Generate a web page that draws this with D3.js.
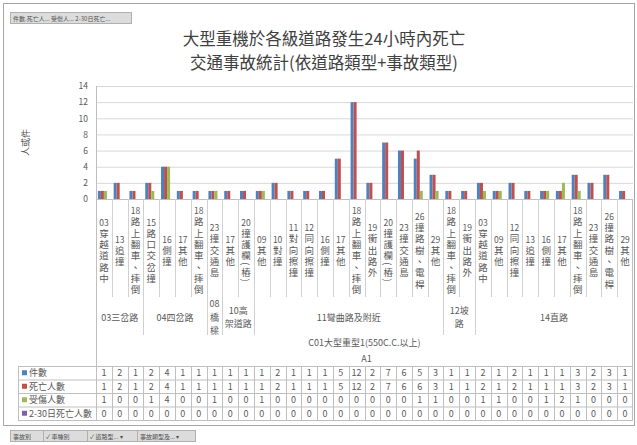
<!DOCTYPE html>
<html>
<head>
<meta charset="utf-8">
<script src="https://cdn.jsdelivr.net/npm/d3@7"></script>
<style>
  html, body { margin: 0; padding: 0; background: #fff; }
  svg { display: block; font-family: "Noto Sans CJK TC", "Noto Sans", sans-serif; }
  .vert { writing-mode: vertical-rl; }
</style>
</head>
<body>
<svg id="chart" width="637" height="445"></svg>
<script>
// ---- data ----
const accidentTypes = [
  "03穿越道路中", "13追撞", "18路上翻車、摔倒",
  "15路口交岔撞", "16側撞", "17其他", "18路上翻車、摔倒",
  "23撞交通島",
  "17其他", "20撞護欄(樁)",
  "09其他", "10對撞", "11對向擦撞", "12同向擦撞", "16側撞", "17其他",
  "18路上翻車、摔倒", "19衝出路外", "20撞護欄(樁)", "23撞交通島", "26撞路樹、電桿", "29其他",
  "18路上翻車、摔倒", "19衝出路外",
  "03穿越道路中", "09其他", "12同向擦撞", "13追撞", "16側撞", "17其他",
  "18路上翻車、摔倒", "23撞交通島", "26撞路樹、電桿", "29其他"
];
const roadTypes = ["03三岔路", "04四岔路", "08\n橋\n樑", "10高\n架道路", "11彎曲路及附近", "12坡\n路", "14直路"];
const roadTypeCounts = [3, 4, 1, 2, 12, 2, 10];
const vehicleType = "C01大型重型1(550C.C.以上)";
const topLevel = "A1";

const seriesNames = ["件數", "死亡人數", "受傷人數", "2-30日死亡人數"];
const casesCount = [1, 2, 1, 2, 4, 1, 1, 1, 1, 1, 1, 2, 1, 1, 1, 5, 12, 2, 7, 6, 5, 3, 1, 1, 2, 1, 2, 1, 1, 1, 3, 2, 3, 1];
const deaths     = [1, 2, 1, 2, 4, 1, 1, 1, 1, 1, 1, 2, 1, 1, 1, 5, 12, 2, 7, 6, 6, 3, 1, 1, 2, 1, 2, 1, 1, 1, 3, 2, 3, 1];
const injured    = [1, 0, 0, 1, 4, 0, 0, 1, 0, 0, 1, 0, 0, 0, 0, 0, 0, 0, 0, 0, 1, 1, 0, 0, 1, 1, 0, 0, 1, 2, 1, 0, 0, 0];
const lateDeaths = [0, 0, 0, 0, 0, 0, 0, 0, 0, 0, 0, 0, 0, 0, 0, 0, 0, 0, 0, 0, 0, 0, 0, 0, 0, 0, 0, 0, 0, 0, 0, 0, 0, 0];
const seriesValues = [casesCount, deaths, injured, lateDeaths];
const seriesColors = ["#4F81BD", "#C0504D", "#9BBB59", "#8064A2"];
const yTicks = [0, 2, 4, 6, 8, 10, 12, 14];

const titleLines = ["大型重機於各級道路發生24小時內死亡", "交通事故統計(依道路類型+事故類型)"];
const yAxisTitle = "人或件";

// ---- layout ----
const W = 637, H = 445;
const plot = { left: 96, right: 633, top: 86, bottom: 199 };
const lvl1Bottom = 297, lvl2Bottom = 335, tableTop = 366, rowH = 13.5, tableLeft = 18;
const textColor = "#595959", lineColor = "#bfbfbf";

const svg = d3.select("#chart");
svg.append("rect").attr("width", W).attr("height", H).attr("fill", "#fff");

// outer chart frame
svg.append("rect").attr("x", 3.5).attr("y", 3.5).attr("width", 631).attr("height", 422)
  .attr("fill", "none").attr("stroke", "#a6a6a6");

// scales
const x = d3.scaleBand().domain(d3.range(accidentTypes.length)).range([plot.left, plot.right]);
const xs = d3.scaleBand().domain(seriesNames).range([0, x.bandwidth()]).paddingOuter(0.62);
const y = d3.scaleLinear().domain([0, 14]).range([plot.bottom, plot.top]);

// gridlines
svg.append("g").attr("transform", `translate(${plot.left},0)`)
  .call(d3.axisLeft(y).tickValues(yTicks).tickSize(-(plot.right - plot.left)).tickFormat(""))
  .call(g => g.select(".domain").remove())
  .call(g => g.selectAll("line").attr("stroke", "#d9d9d9"));

// y tick labels
svg.append("g").attr("transform", `translate(${plot.left - 8},0)`)
  .call(d3.axisLeft(y).tickValues(yTicks).tickSize(0).tickPadding(0))
  .call(g => g.select(".domain").remove())
  .call(g => g.selectAll("text").attr("fill", textColor).attr("font-size", 8.5)
    .attr("font-family", "Noto Sans CJK TC"));

// y axis title, centred on the plot height
svg.append("text").attr("transform", `translate(25,${(plot.top + plot.bottom) / 2}) rotate(-90)`)
  .attr("text-anchor", "middle").attr("dominant-baseline", "central")
  .attr("fill", textColor).attr("font-size", 9)
  .text(yAxisTitle);

// bars
const barG = svg.append("g");
seriesNames.forEach((s, si) => {
  barG.selectAll(null).data(seriesValues[si]).join("rect")
    .attr("x", (d, i) => x(i) + xs(s))
    .attr("width", xs.bandwidth())
    .attr("y", d => y(d))
    .attr("height", d => y(0) - y(d))
    .attr("fill", seriesColors[si]);
});

// axis lines
svg.append("line").attr("x1", plot.left).attr("x2", plot.right).attr("y1", plot.bottom + 0.5).attr("y2", plot.bottom + 0.5)
  .attr("stroke", "#bfbfbf");
svg.append("line").attr("x1", plot.left + 0.5).attr("x2", plot.left + 0.5).attr("y1", plot.top).attr("y2", tableTop + 4 * rowH)
  .attr("stroke", lineColor);
svg.append("line").attr("x1", plot.right - 0.5).attr("x2", plot.right - 0.5).attr("y1", plot.bottom).attr("y2", tableTop + 4 * rowH)
  .attr("stroke", lineColor);

// level-1 separators between categories
const bounds = d3.range(1, accidentTypes.length).map(i => x(i));
svg.append("g").selectAll("line").data(bounds).join("line")
  .attr("x1", d => Math.round(d) + 0.5).attr("x2", d => Math.round(d) + 0.5)
  .attr("y1", plot.bottom).attr("y2", lvl1Bottom)
  .attr("stroke", "#d0d0d0");

// level-2 group separators
const groupStarts = d3.cumsum([0, ...roadTypeCounts]);
svg.append("g").selectAll("line").data(groupStarts.slice(1, -1)).join("line")
  .attr("x1", d => Math.round(x(d)) + 0.5).attr("x2", d => Math.round(x(d)) + 0.5)
  .attr("y1", plot.bottom).attr("y2", lvl2Bottom)
  .attr("stroke", "#d0d0d0");

// vertical category labels: code number on top, name set in vertical writing below
const fs1 = 9.5, lh1 = 11.3, mid1 = 250;
const lvl1 = svg.append("g").attr("fill", textColor);
accidentTypes.forEach((lab, i) => {
  const code = lab.match(/^\d+/)[0];
  const name = lab.slice(code.length);
  // row count: "(" is set sideways and shares a row with the next glyph
  const nameRows = Array.from(name).filter(c => c !== "(").length;
  const rows = 1 + nameRows;
  const cx = x(i) + x.bandwidth() / 2;
  const y0 = mid1 - (rows - 1) * lh1 / 2;
  lvl1.append("text").attr("x", cx).attr("y", y0).attr("text-anchor", "middle")
    .attr("dominant-baseline", "central").attr("font-size", 8.5).text(code);
  lvl1.append("text").attr("class", "vert").attr("x", cx).attr("y", y0 + lh1 / 2 + (lh1 - fs1) / 2)
    .attr("font-size", fs1).attr("letter-spacing", lh1 - fs1).text(name);
});

// level-2 road type labels
const lvl2 = svg.append("g").attr("fill", textColor).attr("font-size", 9).attr("text-anchor", "middle");
roadTypes.forEach((lab, gi) => {
  const a = x(groupStarts[gi]), b = x(groupStarts[gi + 1] - 1) + x.bandwidth();
  const cx = (a + b) / 2;
  const lines = lab.split("\n");
  const lh = 13.2;
  const y0 = 317 - (lines.length - 1) * lh / 2;
  lines.forEach((l, k) => lvl2.append("text").attr("x", cx).attr("y", y0 + k * lh)
    .attr("dominant-baseline", "central").text(l));
});

// level-3 and level-4 labels
const cxAll = (plot.left + plot.right) / 2;
svg.append("text").attr("x", cxAll).attr("y", 342).attr("dominant-baseline", "central")
  .attr("text-anchor", "middle").attr("fill", textColor).attr("font-size", 9).text(vehicleType);
svg.append("text").attr("x", cxAll + 2).attr("y", 358).attr("dominant-baseline", "central")
  .attr("text-anchor", "middle").attr("fill", textColor).attr("font-size", 9).text(topLevel);

// data table
const table = svg.append("g");
d3.range(5).forEach(r => {
  table.append("line").attr("x1", tableLeft).attr("x2", plot.right)
    .attr("y1", tableTop + r * rowH + 0.5).attr("y2", tableTop + r * rowH + 0.5)
    .attr("stroke", lineColor);
});
table.append("line").attr("x1", tableLeft + 0.5).attr("x2", tableLeft + 0.5)
  .attr("y1", tableTop).attr("y2", tableTop + 4 * rowH).attr("stroke", lineColor);
table.selectAll(".col").data(bounds).join("line")
  .attr("x1", d => Math.round(d) + 0.5).attr("x2", d => Math.round(d) + 0.5)
  .attr("y1", tableTop).attr("y2", tableTop + 4 * rowH).attr("stroke", lineColor);

seriesNames.forEach((s, si) => {
  const cy = tableTop + si * rowH + rowH / 2;
  table.append("rect").attr("x", tableLeft + 4).attr("y", cy - 2.5).attr("width", 5).attr("height", 5)
    .attr("fill", seriesColors[si]);
  table.append("text").attr("x", tableLeft + 11).attr("y", cy).attr("dominant-baseline", "central")
    .attr("fill", textColor).attr("font-size", 9).text(s);
  table.selectAll(null).data(seriesValues[si]).join("text")
    .attr("x", (d, i) => x(i) + x.bandwidth() / 2).attr("y", cy)
    .attr("dominant-baseline", "central").attr("text-anchor", "middle")
    .attr("fill", textColor).attr("font-size", 9).text(d => d);
});

// title
const title = svg.append("g").attr("fill", "#404040").attr("font-size", 16.5).attr("text-anchor", "middle");
titleLines.forEach((l, k) => title.append("text").attr("x", 324).attr("y", 38 + k * 24)
  .attr("dominant-baseline", "central").text(l));

// pivot field buttons
function fieldButton(x0, y0, w, h, label) {
  const g = svg.append("g");
  g.append("rect").attr("x", x0 + 0.5).attr("y", y0 + 0.5).attr("width", w).attr("height", h)
    .attr("fill", "#dcdcdc").attr("stroke", "#b0b0b0");
  g.append("text").attr("x", x0 + 3).attr("y", y0 + h / 2 + 0.5).attr("dominant-baseline", "central")
    .attr("fill", "#505050").attr("font-size", 6).text(label);
}
fieldButton(10, 12, 121, 11, "件數.死亡人... 受傷人... 2-30日死亡...");
fieldButton(10, 430, 33, 11, "事故別");
fieldButton(43, 430, 44, 11, "✓ 車種別");
fieldButton(87, 430, 50, 11, "✓ 道路型... ▾");
fieldButton(137, 430, 58, 11, "事故類型及... ▾");
</script>
</body>
</html>
